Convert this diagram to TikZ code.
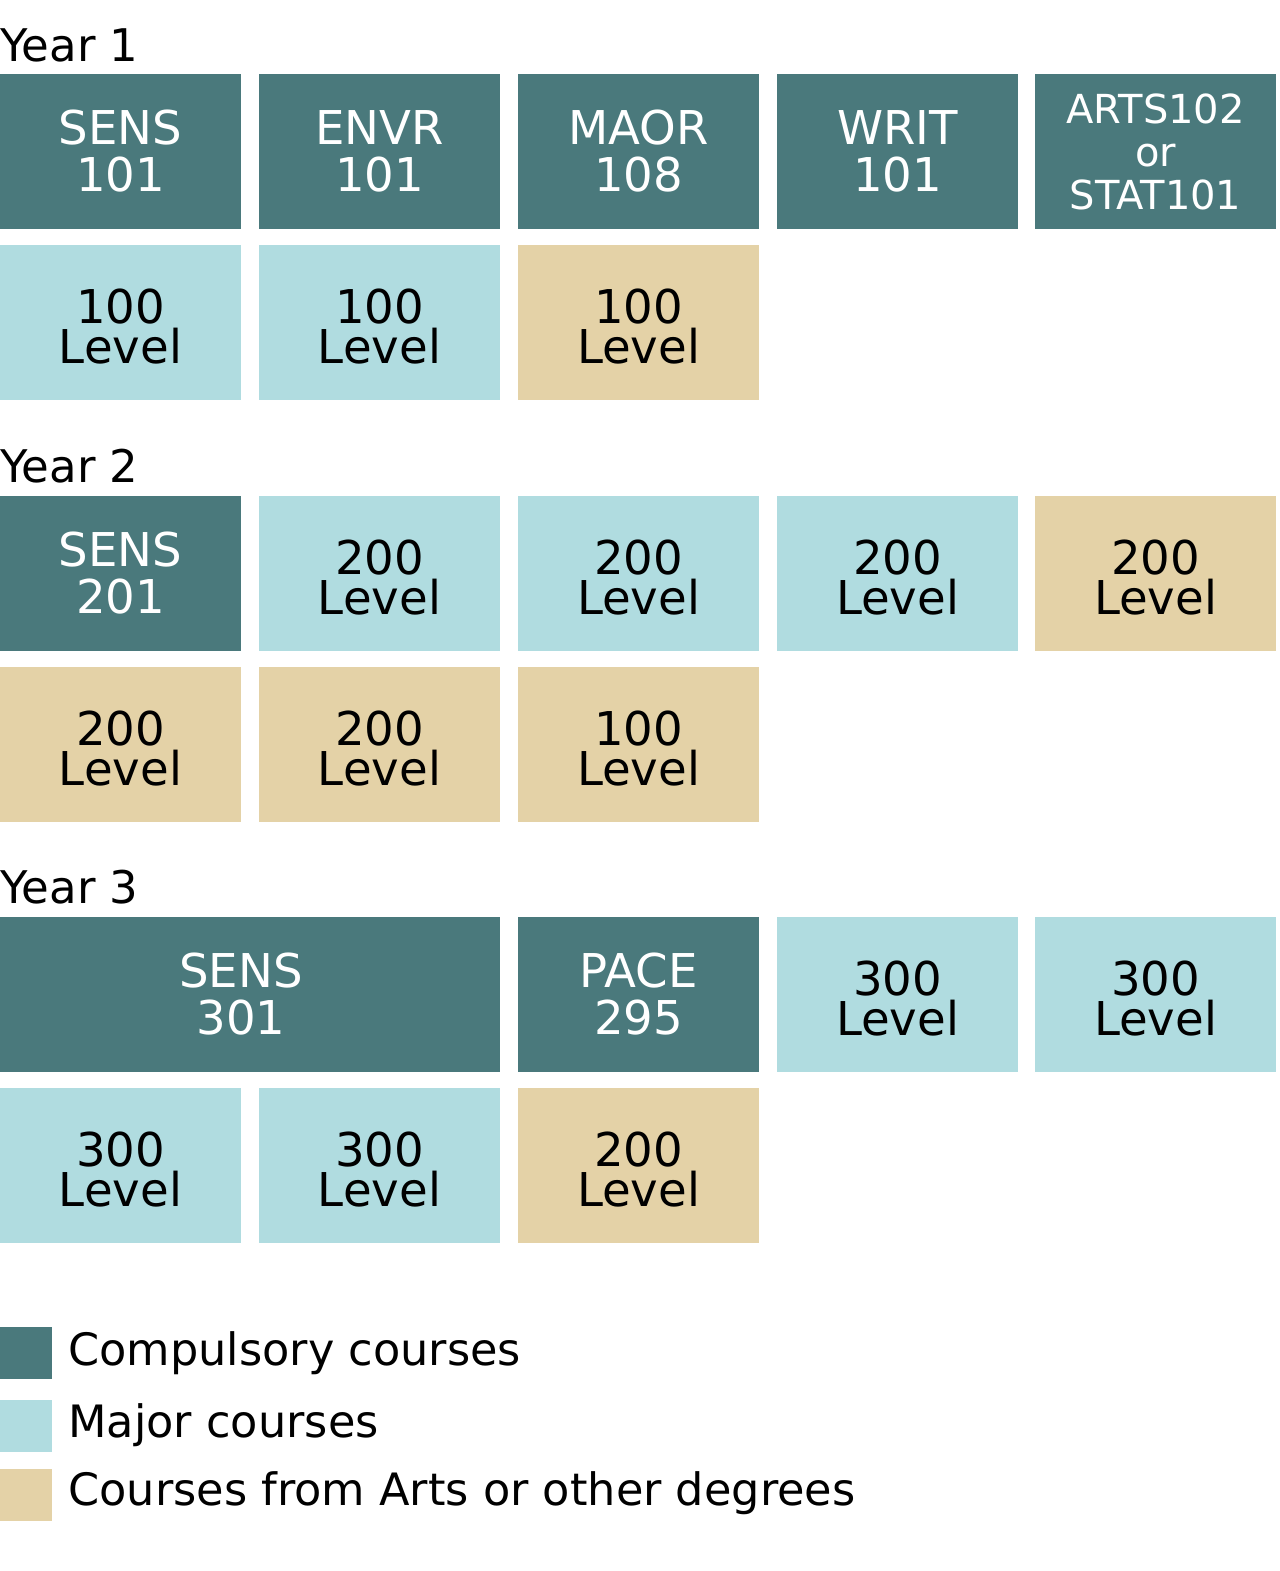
\documentclass[tikz,border=0pt]{standalone}
\usepackage{fontspec}
\setmainfont{DejaVu Sans}
\definecolor{comp}{HTML}{4A797C}
\definecolor{major}{HTML}{B0DCE0}
\definecolor{other}{HTML}{E4D2A7}
\tikzset{
  cell/.style={rectangle, inner sep=0pt, outer sep=0pt, anchor=north west,
    minimum width=120.5pt, minimum height=77.5pt},
  dk/.style={cell, fill=comp},
  lb/.style={cell, fill=major},
  tn/.style={cell, fill=other},
  wtxt/.style={inner sep=0pt, align=center, text=white,
    font=\fontsize{23.3pt}{23.5pt}\selectfont},
  btxt/.style={inner sep=0pt, align=center, text=black, yshift=-2pt,
    font=\fontsize{23.3pt}{20pt}\selectfont},
  yeartxt/.style={inner sep=0pt, anchor=base west,
    font=\fontsize{22.5pt}{27pt}\selectfont},
  legtxt/.style={inner sep=0pt, anchor=base west,
    font=\fontsize{22.3pt}{26pt}\selectfont},
  legbox/.style={rectangle, inner sep=0pt, outer sep=0pt, anchor=north west,
    minimum width=26pt, minimum height=26pt}
}
\begin{document}
\begin{tikzpicture}[x=0.5pt, y=-0.5pt]
\useasboundingbox (0,0) rectangle (1280,1571);
% Year 1
\node[yeartxt] (y1) at (0,61) {Year 1};
\node[dk] (a1) at (0,74) {};   \node[wtxt] (ta1) at (a1.center) {SENS\\101};
\node[dk] (a2) at (259,74) {}; \node[wtxt] (ta2) at (a2.center) {ENVR\\101};
\node[dk] (a3) at (518,74) {}; \node[wtxt] (ta3) at (a3.center) {MAOR\\108};
\node[dk] (a4) at (777,74) {}; \node[wtxt] (ta4) at (a4.center) {WRIT\\101};
\node[dk] (a5) at (1035,74) {};
\node[wtxt, font=\fontsize{20pt}{21.5pt}\selectfont] (ta5) at (a5.center) {ARTS102\\or\\STAT101};
\node[lb] (b1) at (0,245) {};   \node[btxt] (tb1) at (b1.center) {100\\Level};
\node[lb] (b2) at (259,245) {}; \node[btxt] (tb2) at (b2.center) {100\\Level};
\node[tn] (b3) at (518,245) {}; \node[btxt] (tb3) at (b3.center) {100\\Level};
% Year 2
\node[yeartxt] (y2) at (0,482) {Year 2};
\node[dk] (c1) at (0,496) {};   \node[wtxt] (tc1) at (c1.center) {SENS\\201};
\node[lb] (c2) at (259,496) {}; \node[btxt] (tc2) at (c2.center) {200\\Level};
\node[lb] (c3) at (518,496) {}; \node[btxt] (tc3) at (c3.center) {200\\Level};
\node[lb] (c4) at (777,496) {}; \node[btxt] (tc4) at (c4.center) {200\\Level};
\node[tn] (c5) at (1035,496) {}; \node[btxt] (tc5) at (c5.center) {200\\Level};
\node[tn] (d1) at (0,667) {};   \node[btxt] (td1) at (d1.center) {200\\Level};
\node[tn] (d2) at (259,667) {}; \node[btxt] (td2) at (d2.center) {200\\Level};
\node[tn] (d3) at (518,667) {}; \node[btxt] (td3) at (d3.center) {100\\Level};
% Year 3
\node[yeartxt] (y3) at (0,903) {Year 3};
\node[dk, minimum width=250pt] (e1) at (0,917) {}; \node[wtxt, xshift=-4.5pt] (te1) at (e1.center) {SENS\\301};
\node[dk] (e3) at (518,917) {}; \node[wtxt] (te3) at (e3.center) {PACE\\295};
\node[lb] (e4) at (777,917) {}; \node[btxt] (te4) at (e4.center) {300\\Level};
\node[lb] (e5) at (1035,917) {}; \node[btxt] (te5) at (e5.center) {300\\Level};
\node[lb] (f1) at (0,1088) {};   \node[btxt] (tf1) at (f1.center) {300\\Level};
\node[lb] (f2) at (259,1088) {}; \node[btxt] (tf2) at (f2.center) {300\\Level};
\node[tn] (f3) at (518,1088) {}; \node[btxt] (tf3) at (f3.center) {200\\Level};
% Legend
\node[legbox, fill=comp] (l1) at (0,1327) {};
\node[legtxt] (lt1) at (68,1365) {Compulsory courses};
\node[legbox, fill=major] (l2) at (0,1400) {};
\node[legtxt] (lt2) at (68,1437) {Major courses};
\node[legbox, fill=other] (l3) at (0,1469) {};
\node[legtxt] (lt3) at (68,1505) {Courses from Arts or other degrees};
\end{tikzpicture}
\end{document}
